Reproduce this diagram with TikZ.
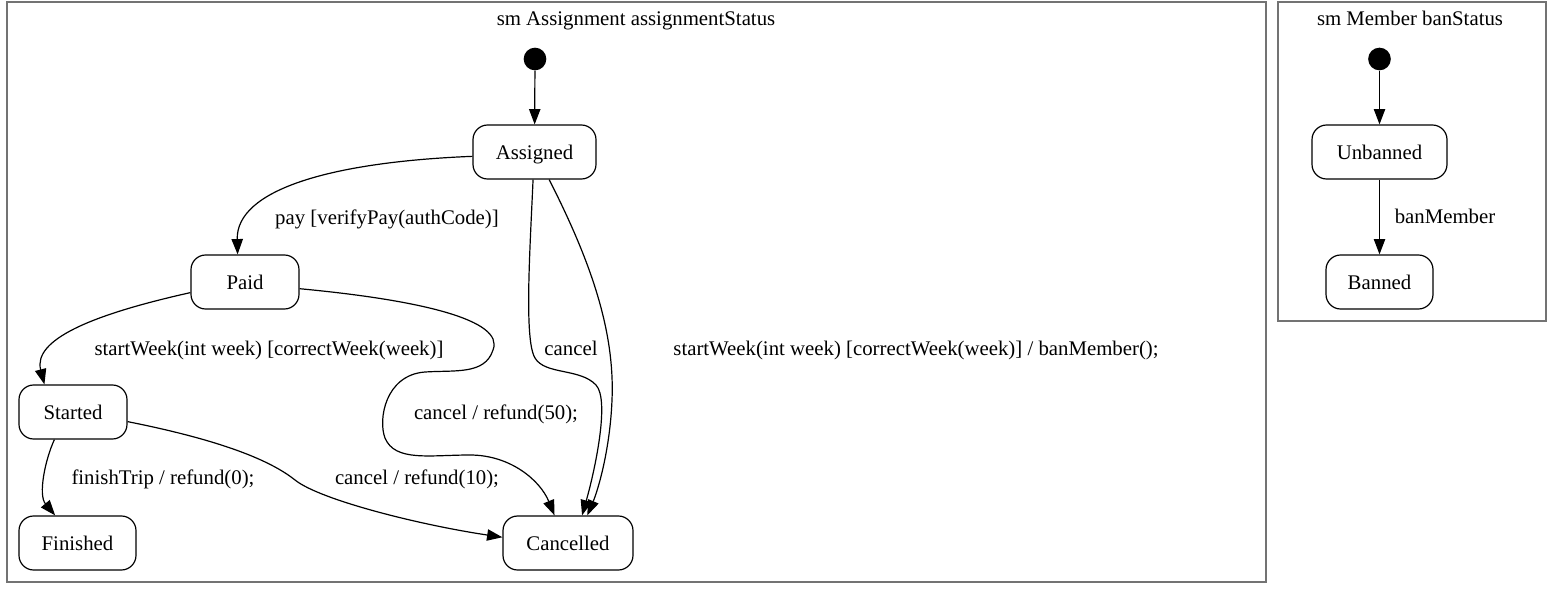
\documentclass[tikz,border=0pt]{standalone}
\usepackage{fontspec}
\setmainfont{Liberation Serif}
\usetikzlibrary{arrows.meta}
\begin{document}
\begin{tikzpicture}[x=0.75pt,y=-0.75pt,
  txt/.style={font=\rmfamily\fontsize{15.6}{18}\selectfont, text height=14.5pt, text depth=3.5pt},
  state/.style={txt, draw, line width=0.9pt, rounded corners=11pt, minimum height=40.5pt, inner sep=0pt},
  initst/.style={circle, fill=black, minimum size=17pt, inner sep=0pt},
  lbl/.style={txt, inner sep=0pt},
  tr/.style={draw, line width=0.9pt, -{Triangle[length=11.5pt,width=8.5pt]}},
  cluster/.style={draw=black!55, line width=0.9pt}]
\useasboundingbox (0,0) rectangle (1557,592);
\fill[white] (0,0) rectangle (1557,592);
% clusters
\draw[cluster] (7,2) rectangle (1266,582);
\draw[cluster] (1278,2) rectangle (1546,321);
\node[lbl] (t1) at (636,18) {sm Assignment assignmentStatus};
\node[lbl] (t2) at (1410,18) {sm Member banStatus};
% states
\node[initst] (i1) at (535,59) {};
\node[state, minimum width=92.25pt] (assigned) at (534.5,152) {Assigned};
\node[state, minimum width=81pt] (paid) at (245,282) {Paid};
\node[state, minimum width=81pt] (started) at (73,412) {Started};
\node[state, minimum width=87.75pt] (finished) at (77.5,543) {Finished};
\node[state, minimum width=97.5pt] (cancelled) at (568,543) {Cancelled};
\node[initst] (i2) at (1379.5,59) {};
\node[state, minimum width=101.25pt] (unbanned) at (1379.5,152) {Unbanned};
\node[state, minimum width=80.25pt] (banned) at (1379.5,282) {Banned};
% transitions
\draw[tr] (i1) -- (assigned);
\draw[tr] (assigned.184) .. controls (330,162) and (236,190) .. (paid.105);
\draw[tr] (paid.191) .. controls (90,315) and (33,340) .. (started.136);
\draw[tr] (paid.-7) .. controls (420,300) and (505,320) .. (493,350)
  .. controls (485,375) and (455,370) .. (425,372)
  .. controls (385,375) and (378,420) .. (385,438)
  .. controls (395,462) and (430,455) .. (470,455)
  .. controls (510,455) and (540,480) .. (cancelled.116);
\draw[tr] (assigned.-93) .. controls (530,250) and (524,340) .. (535,358)
  .. controls (545,375) and (580,368) .. (596,385)
  .. controls (610,400) and (595,470) .. (cancelled.63);
\draw[tr] (assigned.-62) .. controls (590,260) and (615,330) .. (612,400)
  .. controls (610,450) and (598,490) .. (cancelled.55);
\draw[tr] (started.-124) .. controls (45,460) and (38,495) .. (finished.129);
\draw[tr] (started.-10) .. controls (220,440) and (270,460) .. (295,480)
  .. controls (320,500) and (420,525) .. (cancelled.175);
\draw[tr] (i2) -- (unbanned);
\draw[tr] (unbanned) -- (banned);
% labels
\node[lbl] (l1) at (387,217) {pay [verifyPay(authCode)]};
\node[lbl] (l2) at (269,348) {startWeek(int week) [correctWeek(week)]};
\node[lbl] (l3) at (496,412) {cancel / refund(50);};
\node[lbl] (l4) at (571,348) {cancel};
\node[lbl] (l5) at (916,348) {startWeek(int week) [correctWeek(week)] / banMember();};
\node[lbl] (l6) at (163,477) {finishTrip / refund(0);};
\node[lbl] (l7) at (417,477) {cancel / refund(10);};
\node[lbl] (l8) at (1445,216) {banMember};
\end{tikzpicture}
\end{document}
